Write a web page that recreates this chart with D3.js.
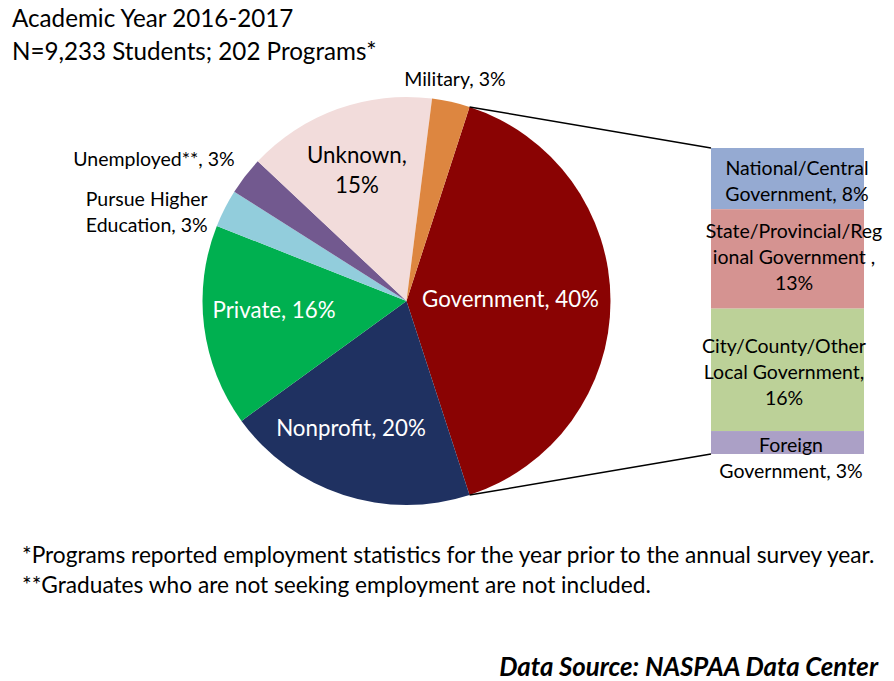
<!DOCTYPE html>
<html><head><meta charset="utf-8">
<script src="https://cdn.jsdelivr.net/npm/d3@7"></script>
<style>
html,body{margin:0;padding:0;background:#fff;}
text{font-family:Lato,"Open Sans",sans-serif;}
</style></head>
<body><svg id="c" width="894" height="681"></svg>
<script>
const categories = ["Government", "Nonprofit", "Private", "Pursue Higher Education", "Unemployed**", "Unknown", "Military"];
const values = [40, 20, 16, 3, 3, 15, 3];
const labelLines = [["Government, 40%"], ["Nonprofit, 20%"], ["Private, 16%"], ["Pursue Higher", "Education, 3%"], ["Unemployed**, 3%"], ["Unknown,", "15%"], ["Military, 3%"]];
const colors = ["#8A0303", "#1F3161", "#00B050", "#92CDDC", "#72598F", "#F2DCDB", "#DD8640"];

const govCategories = ["National/Central Government", "State/Provincial/Regional Government", "City/County/Other Local Government", "Foreign Government"];
const govValues = [8, 13, 16, 3];
const govLabelLines = [["National/Central", "Government, 8%"], ["State/Provincial/Reg", "ional Government ,", "13%"], ["City/County/Other", "Local Government,", "16%"], ["Foreign", "Government, 3%"]];
const govColors = ["#95AAD2", "#D59391", "#BCD198", "#ABA0C6"];

const titleLines = ["Academic Year 2016-2017", "N=9,233 Students; 202 Programs*"];
const footnotes = ["*Programs reported employment statistics for the year prior to the annual survey year.", "**Graduates who are not seeking employment are not included."];
const source = "Data Source: NASPAA Data Center";

const svg = d3.select("#c");
const cx = 406.5, cy = 301, R = 204;
const deg = Math.PI / 180;
const start = 18 * deg;

const pie = d3.pie().sort(null).value(d => d).startAngle(start).endAngle(start + 2 * Math.PI);
const arcs = pie(values);
const arc = d3.arc().innerRadius(0).outerRadius(R);

const g = svg.append("g").attr("transform", `translate(${cx},${cy})`);
g.selectAll("path").data(arcs).join("path")
  .attr("d", arc).attr("fill", (d, i) => colors[i]);

// connector lines
const gov = arcs[0];
const polar = (a, r) => [Math.sin(a) * r, -Math.cos(a) * r];
const y = d3.scaleLinear().domain([0, d3.sum(govValues)]).range([148, 454]);
const bx0 = 711, bx1 = 864;
const p0 = polar(gov.startAngle, R), p1 = polar(gov.endAngle, R);
svg.append("line").attr("x1", cx + p0[0]).attr("y1", cy + p0[1]).attr("x2", bx0).attr("y2", y(0)).attr("stroke", "#000").attr("stroke-width", 1.5);
svg.append("line").attr("x1", cx + p1[0]).attr("y1", cy + p1[1]).attr("x2", bx0).attr("y2", y(d3.sum(govValues))).attr("stroke", "#000").attr("stroke-width", 1.5);

// bar
let cum = 0;
const segs = govValues.map((v, i) => { const s = { v, i, y0: cum, y1: cum + v }; cum += v; return s; });
svg.selectAll("rect.seg").data(segs).join("rect").attr("class", "seg")
  .attr("x", bx0).attr("width", bx1 - bx0)
  .attr("y", d => y(d.y0)).attr("height", d => y(d.y1) - y(d.y0))
  .attr("fill", d => govColors[d.i]);

// bar labels
const govLabelPos = [{x: 797, y: 175}, {x: 794, y: 238}, {x: 784, y: 353}, {x: 791, y: 452}];
const lh = 25.8;
segs.forEach((s, i) => {
  const t = svg.append("text").attr("text-anchor", "middle").attr("font-size", 19.5).attr("fill", "#000");
  govLabelLines[i].forEach((ln, j) => t.append("tspan").attr("x", govLabelPos[i].x).attr("y", govLabelPos[i].y + j * lh).text(ln));
});

// pie labels: radial placement + small adjustments
const place = [
  {r: 104, dx: 0, dy: 6, fill: "#fff", size: 22.3, lh: 30},
  {r: 136, dx: -13.5, dy: 6, fill: "#fff", size: 22.3, lh: 30},
  {r: 138, dx: 4.5, dy: 0, fill: "#fff", size: 22.3, lh: 30},
  {r: 250, dx: -37, dy: 31.5, fill: "#000", size: 19.5, lh: 26},
  {r: 250, dx: -55, dy: 18.5, fill: "#000", size: 19.5, lh: 26},
  {r: 133, dx: -4.5, dy: 2, fill: "#000", size: 22.3, lh: 30},
  {r: 222, dx: 0, dy: 1.5, fill: "#000", size: 19.5, lh: 26}
];
arcs.forEach((a, i) => {
  const m = (a.startAngle + a.endAngle) / 2;
  const p = polar(m, place[i].r);
  const lines = labelLines[i];
  const x = cx + p[0] + place[i].dx;
  const y0 = cy + p[1] + place[i].dy - (lines.length - 1) * place[i].lh / 2;
  const t = svg.append("text").attr("text-anchor", "middle").attr("font-size", place[i].size).attr("fill", place[i].fill);
  lines.forEach((ln, j) => t.append("tspan").attr("x", x).attr("y", y0 + j * place[i].lh).text(ln));
});

// titles
titleLines.forEach((ln, j) => svg.append("text").attr("x", 12).attr("y", 27 + j * 33).attr("font-size", 24.2).attr("fill", "#000").text(ln));
footnotes.forEach((ln, j) => svg.append("text").attr("x", 22).attr("y", 563 + j * 30).attr("font-size", 22.7).attr("fill", "#000").text(ln));
svg.append("text").attr("x", 878).attr("y", 676).attr("text-anchor", "end").attr("font-size", 25.8)
  .attr("font-weight", "bold").attr("font-style", "italic").attr("fill", "#000").text(source);
</script></body></html>
